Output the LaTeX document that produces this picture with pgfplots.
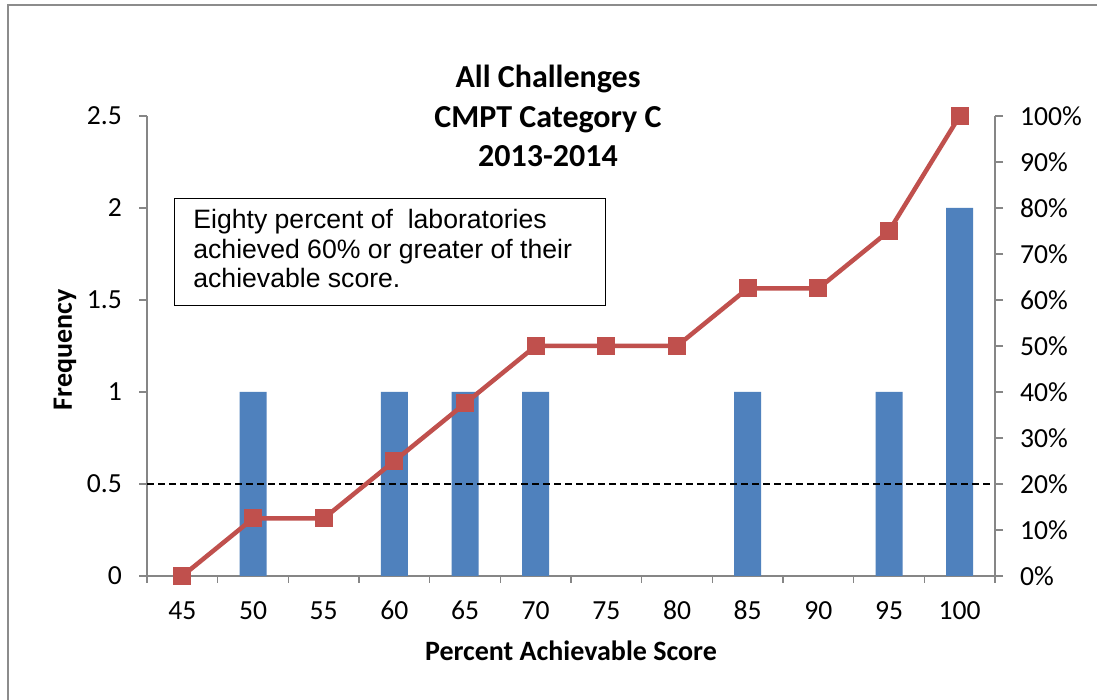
\documentclass[border=0pt]{standalone}
\usepackage{pgfplots}
\pgfplotsset{compat=1.18}
\usepackage{fontspec}
\setmainfont{Carlito}
\newfontfamily\arial{Liberation Sans}
\definecolor{barblue}{HTML}{4F81BD}
\definecolor{linered}{HTML}{C0504D}
\definecolor{axisgray}{HTML}{868686}
\definecolor{framegray}{HTML}{8C8C8C}
\begin{document}
\begin{tikzpicture}
\useasboundingbox (0,0) rectangle (548.5pt,350pt);
\fill[white] (0,0) rectangle (548.5pt,350pt);
\draw[framegray, line width=1pt] (4pt,-10pt) rectangle (560pt,347.5pt);
\begin{axis}[
  at={(73.5pt,62pt)}, anchor=south west,
  width=424pt, height=230pt, scale only axis,
  xmin=-0.5, xmax=11.5, ymin=0, ymax=2.5,
  axis x line*=bottom, axis y line*=left,
  axis line style={draw=axisgray, line width=0.8pt, -},
  tick align=outside,
  major tick length=4pt, minor tick length=3.5pt,
  every tick/.style={draw=axisgray, line width=0.8pt},
  xtick={0,...,11},
  xticklabels={45,50,55,60,65,70,75,80,85,90,95,100},
  major x tick style={draw=none},
  minor xtick={-0.5,0.5,1.5,2.5,3.5,4.5,5.5,6.5,7.5,8.5,9.5,10.5,11.5},
  ytick={0,0.5,1,1.5,2,2.5},
  /pgf/number format/assume math mode=true,
  tick label style={font=\fontsize{13.8}{16}\selectfont, text=black},
  xticklabel style={anchor=base, yshift=-18pt},
  yticklabel style={anchor=east, xshift=-5pt},
  clip=false,
]
\addplot[ybar, bar width=13.5pt, fill=barblue, draw=none]
  coordinates {(1,1) (3,1) (4,1) (5,1) (8,1) (10,1) (11,2)};
\addplot[black, line width=1pt, dash pattern=on 3.3pt off 2.2pt]
  coordinates {(-0.5,0.5) (11.5,0.5)};
\end{axis}
\begin{axis}[
  at={(73.5pt,62pt)}, anchor=south west,
  width=424pt, height=230pt, scale only axis,
  xmin=-0.5, xmax=11.5, ymin=0, ymax=100,
  axis x line=none, axis y line*=right,
  axis line style={draw=axisgray, line width=0.8pt, -},
  tick align=outside,
  major tick length=4pt,
  every tick/.style={draw=axisgray, line width=0.8pt},
  ytick={0,10,...,100},
  yticklabel={\pgfmathprintnumber{\tick}\%},
  /pgf/number format/assume math mode=true,
  tick label style={font=\fontsize{13.8}{16}\selectfont, text=black},
  yticklabel style={anchor=west, xshift=5pt},
  clip=false,
]
\addplot[linered, line width=2.25pt, mark=square*, mark size=4.25pt,
  mark options={fill=linered, draw=linered, line width=0.5pt}]
  coordinates {(0,0) (1,12.5) (2,12.5) (3,25) (4,37.5) (5,50) (6,50) (7,50) (8,62.5) (9,62.5) (10,75) (11,100)};
\end{axis}
% titles and labels
\node[anchor=base, font=\fontsize{16}{19}\selectfont\bfseries] at (274pt,306pt) {All Challenges};
\node[anchor=base, font=\fontsize{16}{19}\selectfont\bfseries] at (274pt,286pt) {CMPT Category C};
\node[anchor=base, font=\fontsize{16}{19}\selectfont\bfseries] at (274pt,266.5pt) {2013-2014};
\node[rotate=90, font=\fontsize{14}{17}\selectfont\bfseries] at (32.5pt,175pt) {Frequency};
\node[anchor=base, font=\fontsize{14}{17}\selectfont\bfseries] at (285.5pt,19.5pt) {Percent Achievable Score};
% annotation box
\draw[black, line width=0.5pt, fill=white] (87pt,197pt) rectangle (302.5pt,250.5pt);
\node[anchor=base west, inner sep=0pt, font=\arial\fontsize{13.3}{15}\selectfont] at (96.5pt,235.5pt) {Eighty percent of \ laboratories};
\node[anchor=base west, inner sep=0pt, font=\arial\fontsize{13.3}{15}\selectfont] at (96.5pt,220.75pt) {achieved 60\% or greater of their};
\node[anchor=base west, inner sep=0pt, font=\arial\fontsize{13.3}{15}\selectfont] at (96.5pt,206pt) {achievable score.};
\end{tikzpicture}
\end{document}
